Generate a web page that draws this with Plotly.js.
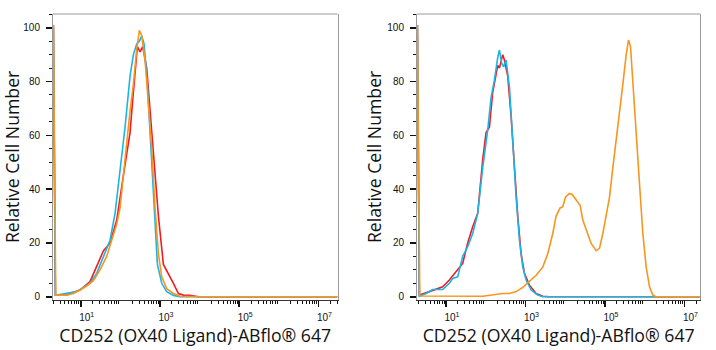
<!DOCTYPE html>
<html>
<head>
<meta charset="utf-8">
<script src="https://cdn.plot.ly/plotly-3.0.1.min.js"></script>
<style>html,body{margin:0;padding:0;background:#fff;}#chart{width:716px;height:350px;}</style>
</head>
<body>
<div id="chart"></div>
<script>
// x values are log10(fluorescence intensity); y values are % of mode
const leftRedLog   = [0.31,0.36,0.645,0.982,1.234,1.403,1.571,1.739,1.908,2.076,2.202,2.244,2.311,2.371,2.429,2.497,2.564,2.665,2.749,2.851,2.960,3.086,3.212,3.339,3.465,3.591,3.759,3.970,7.48];
const leftRedY     = [101,0.6,0.7,2.5,5.6,11,17,20,28.5,45,58,61,73,85,93,91,93,85,69,48,30,12,8.7,5,1.2,0.6,0.5,0,0];
const leftCyanLog  = [0.31,0.36,0.393,0.645,0.898,1.066,1.234,1.403,1.571,1.739,1.866,1.992,2.118,2.244,2.329,2.413,2.480,2.539,2.598,2.682,2.766,2.851,2.935,3.044,3.170,3.339,3.507,7.48];
const leftCyanY    = [101,0.6,0.6,1.2,1.9,3.5,5,8.7,15,21,31,46,63,82,90,94,95,97,94,79,57,31,12,5,1.9,0.5,0,0];
const leftOrangeLog= [0.31,0.37,0.645,0.813,0.982,1.150,1.319,1.487,1.655,1.781,1.908,1.992,2.076,2.160,2.244,2.329,2.413,2.480,2.539,2.623,2.707,2.792,2.876,2.960,3.044,3.170,3.339,3.507,4.012,7.48];
const leftOrangeY  = [101,0.6,0.6,1.2,2.5,4,6,10,15,21,27,33,45,58,69,79,92,99,97,88,73,55,33,16,7.4,3,1.2,0.2,0,0];

const rightRedLog  = [0.28,0.329,0.581,0.749,0.917,1.084,1.252,1.420,1.546,1.672,1.798,1.924,2.008,2.092,2.176,2.260,2.302,2.344,2.428,2.470,2.554,2.638,2.722,2.806,2.890,2.974,3.100,3.268,3.435,3.603,7.40];
const rightRedY    = [101,0.6,1.9,2.7,3.7,6.2,9.3,12.4,20,26,31,51,61,63,76,83,86,85,90,88,82,67,48,30,16,8.7,4.3,1.2,0.2,0,0];
const rightCyanLog = [0.28,0.329,0.497,0.665,0.917,1.084,1.168,1.294,1.420,1.546,1.672,1.798,1.924,2.050,2.134,2.218,2.302,2.344,2.403,2.453,2.512,2.596,2.680,2.764,2.848,2.932,3.016,3.142,3.309,3.435,7.40];
const rightCyanY   = [101,0.2,1.2,2.7,2.7,5,6.8,7.4,15,18.6,23.5,31,48,62,74,80.5,89,91.7,86.7,85.5,88,78,58,37,21,11,6.2,2.5,0.6,0,0];
const rightOrangeLog=[0.28,0.34,1.924,2.092,2.260,2.428,2.596,2.764,2.932,3.100,3.268,3.435,3.561,3.687,3.771,3.872,3.939,4.006,4.107,4.174,4.275,4.376,4.443,4.527,4.653,4.779,4.863,4.947,5.031,5.115,5.199,5.283,5.367,5.451,5.535,5.593,5.644,5.702,5.786,5.870,5.954,6.038,6.122,6.206,6.290,7.40];
const rightOrangeY = [101,0.3,0.2,0.6,1,1.2,1.2,1.9,3.5,5.6,8,11,16,23.5,30,33,33.5,37,38.4,38,36,34,28.5,24.8,19.8,17.1,18,23.5,31,37,48,58,67,79,90,95.4,93,79,61,42,23.5,11,3.7,0.6,0,0];

const labeledTickVals = [1e1,1e3,1e5,1e7];
const labeledTickText = ['10<sup>1</sup>','10<sup>3</sup>','10<sup>5</sup>','10<sup>7</sup>'];
const unlabeledMajorVals = [1e2,1e4,1e6];
const yTickVals = [0,20,40,60,80,100];
const xTitle = 'CD252 (OX40 Ligand)-ABflo® 647';
const yTitle = 'Relative Cell Number';

const COLORS = {red:'#f01c24', cyan:'#1cb4e6', orange:'#f7961e'};

const toLin = a => a.map(e => Math.pow(10, e));
const minorVals = [];
for (let k = 0; k <= 7; k++) for (let d = 2; d <= 9; d++) minorVals.push(d * Math.pow(10, k));
const yMinor = [];
for (let v = 0; v <= 105; v += 5) if (v % 20 !== 0) yMinor.push(v);

function tr(xl, y, color, xa, ya) {
  return {x: toLin(xl), y: y, type:'scatter', mode:'lines', xaxis: xa, yaxis: ya,
          line:{color: color, width:1.6}, hoverinfo:'skip', showlegend:false};
}
const data = [
  tr(leftRedLog, leftRedY, COLORS.red, 'x', 'y'),
  tr(leftCyanLog, leftCyanY, COLORS.cyan, 'x', 'y'),
  tr(leftOrangeLog, leftOrangeY, COLORS.orange, 'x', 'y'),
  tr(rightRedLog, rightRedY, COLORS.red, 'x2', 'y2'),
  tr(rightCyanLog, rightCyanY, COLORS.cyan, 'x2', 'y2'),
  tr(rightOrangeLog, rightOrangeY, COLORS.orange, 'x2', 'y2'),
];

const tickFont = {family:'Liberation Sans, Arial, sans-serif', size:10, color:'#111'};
const titleFont = {family:'Open Sans, Noto Sans, sans-serif', size:17.7, color:'#111'};

function xax(domain, range) {
  return {
    type:'log', domain: domain, range: range, tickmode:'array',
    tickvals: labeledTickVals, ticktext: labeledTickText,
    ticks:'outside', ticklen:6, tickwidth:1.6, tickcolor:'#111',
    minor:{tickvals: minorVals, ticks:'outside', ticklen:3, tickwidth:1, tickcolor:'#111', showgrid:false},
    showgrid:false, zeroline:false, showline:true, linecolor:'#333', linewidth:1,
    tickfont: tickFont, ticklabelshift: 6, ticklabelstandoff: 2,
    title:{text: xTitle, font: titleFont, standoff: 3}, fixedrange:true
  };
}
function xaxOverlay(domain, range, over, anchor) {
  return {
    type:'log', domain: domain, range: range, overlaying: over, anchor: anchor, side:'bottom',
    tickmode:'array', tickvals: unlabeledMajorVals, showticklabels:false,
    ticks:'outside', ticklen:6, tickwidth:1.6, tickcolor:'#111',
    showgrid:false, zeroline:false, showline:false, fixedrange:true
  };
}
function yax(domain, anchor) {
  return {
    domain: domain, range:[-1.1, 105.1], anchor: anchor, tickmode:'array', tickvals: yTickVals,
    ticks:'outside', ticklen:6, tickwidth:1.6, tickcolor:'#111',
    minor:{tickvals: yMinor, ticks:'outside', ticklen:3, tickwidth:1, tickcolor:'#111', showgrid:false},
    showgrid:false, zeroline:false, showline:true, mirror:true, linecolor:'#999', linewidth:1,
    tickfont: tickFont, ticklabelstandoff: 4,
    title:{text: yTitle, font: titleFont, standoff: 1}, fixedrange:true
  };
}

const W = 716, H = 350;
const yDom = [1 - 299.7/H, 1 - 14/H];
const domL = [53/W, 337.5/W], domR = [417/W, 700.3/W];
const rangeL = [0.30, 7.48], rangeR = [0.27, 7.40];
const layout = {
  width: W, height: H, margin:{l:0, r:0, t:0, b:0}, paper_bgcolor:'#fff', plot_bgcolor:'#fff',
  xaxis: Object.assign(xax(domL, rangeL), {anchor:'y'}),
  yaxis: yax(yDom, 'x'),
  xaxis2: Object.assign(xax(domR, rangeR), {anchor:'y2'}),
  yaxis2: yax(yDom, 'x2'),
  xaxis3: xaxOverlay(domL, rangeL, 'x', 'y'),
  xaxis4: xaxOverlay(domR, rangeR, 'x2', 'y2'),
  shapes: [
    {type:'line', xref:'x domain', yref:'y domain', x0:0, x1:1, y0:1, y1:1, line:{color:'#999', width:1}},
    {type:'line', xref:'x2 domain', yref:'y2 domain', x0:0, x1:1, y0:1, y1:1, line:{color:'#999', width:1}}
  ]
};
Plotly.newPlot('chart', data, layout, {displayModeBar:false, staticPlot:true});
</script>
</body>
</html>
